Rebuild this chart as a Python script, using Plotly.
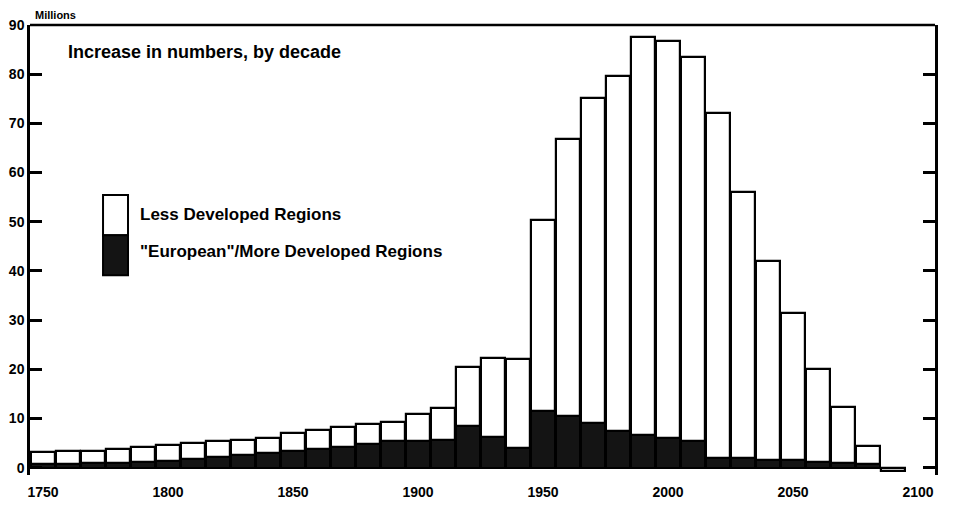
import plotly.graph_objects as go

decades = [1750, 1760, 1770, 1780, 1790, 1800, 1810, 1820, 1830, 1840,
           1850, 1860, 1870, 1880, 1890, 1900, 1910, 1920, 1930, 1940,
           1950, 1960, 1970, 1980, 1990, 2000, 2010, 2020, 2030, 2040,
           2050, 2060, 2070, 2080, 2090]

total_increase = [3.2, 3.3, 3.4, 3.7, 4.1, 4.6, 5.0, 5.4, 5.6, 6.1,
                  7.0, 7.6, 8.3, 8.9, 9.2, 11.0, 12.2, 20.5, 22.3, 22.0,
                  50.3, 66.9, 75.2, 79.7, 87.6, 86.8, 83.5, 72.1, 56.0, 42.0,
                  31.5, 20.1, 12.3, 4.4, -0.7]

more_developed = [0.8, 0.8, 0.9, 1.0, 1.2, 1.4, 1.7, 2.2, 2.6, 2.9,
                  3.3, 3.8, 4.2, 4.8, 5.4, 5.4, 5.6, 8.4, 6.2, 4.0,
                  11.5, 10.5, 9.0, 7.5, 6.7, 6.0, 5.5, 2.0, 1.9, 1.5,
                  1.5, 1.2, 1.0, 0.8, 0.0]

less_developed = [round(t - m, 2) for t, m in zip(total_increase, more_developed)]

y_ticks = [0, 10, 20, 30, 40, 50, 60, 70, 80, 90]
x_ticks = [1750, 1800, 1850, 1900, 1950, 2000, 2050, 2100]

FONT = "Liberation Sans"

fig = go.Figure()
fig.add_trace(go.Bar(
    x=decades, y=more_developed, name='"European"/More Developed Regions',
    marker=dict(color="#141414", line=dict(color="black", width=2)),
    width=9.6, showlegend=False))
fig.add_trace(go.Bar(
    x=decades, y=less_developed, name="Less Developed Regions",
    marker=dict(color="white", line=dict(color="black", width=2.2)),
    width=9.6, showlegend=False))

# the page body adds an 8px offset, margins compensate for it
fig.update_layout(
    width=953, height=505,
    margin=dict(l=22, r=26, t=17, b=38),
    barmode="relative",
    bargap=0,
    plot_bgcolor="white",
    paper_bgcolor="white",
    font=dict(family=FONT, color="black"),
    xaxis=dict(
        range=[1744.8, 2106.8],
        tickvals=x_ticks,
        ticktext=["<b>%d</b>" % v for v in x_ticks],
        showgrid=False, zeroline=False, showline=False, automargin=False,
        ticks="", ticklabelstandoff=7, tickfont=dict(size=14, family=FONT),
    ),
    yaxis=dict(
        range=[-1.5, 90],
        tickvals=y_ticks,
        ticktext=["<b>%d</b>" % v for v in y_ticks],
        showgrid=False, zeroline=False, automargin=False,
        showline=True, linecolor="black", linewidth=2.5, mirror="ticks",
        ticks="inside", ticklen=12, tickwidth=2.5, tickcolor="black",
        tickfont=dict(size=14, family=FONT),
    ),
    shapes=[
        dict(type="line", xref="paper", yref="paper", x0=0, x1=1, y0=1, y1=1,
             line=dict(color="black", width=2.5)),
        dict(type="rect", xref="paper", yref="paper",
             x0=0.0807, x1=0.1083, y0=0.533, y1=0.622,
             fillcolor="white", line=dict(color="black", width=2)),
        dict(type="rect", xref="paper", yref="paper",
             x0=0.0807, x1=0.1083, y0=0.444, y1=0.533,
             fillcolor="#141414", line=dict(color="black", width=2)),
    ],
    annotations=[
        dict(text="<b>Millions</b>", xref="paper", yref="paper", x=0.003, y=1.022,
             xanchor="left", yanchor="middle", showarrow=False,
             font=dict(size=11, family=FONT)),
        dict(text="<b>Increase in numbers, by decade</b>", xref="paper", yref="paper",
             x=0.0398, y=0.94, xanchor="left", yanchor="middle", showarrow=False,
             font=dict(size=18, family=FONT)),
        dict(text="<b>Less Developed Regions</b>", xref="paper", yref="paper",
             x=0.119, y=0.58, xanchor="left", yanchor="middle", showarrow=False,
             font=dict(size=17, family=FONT)),
        dict(text='<b>"European"/More Developed Regions</b>', xref="paper", yref="paper",
             x=0.119, y=0.496, xanchor="left", yanchor="middle", showarrow=False,
             font=dict(size=17, family=FONT)),
    ],
)

fig.write_html("out.html")
